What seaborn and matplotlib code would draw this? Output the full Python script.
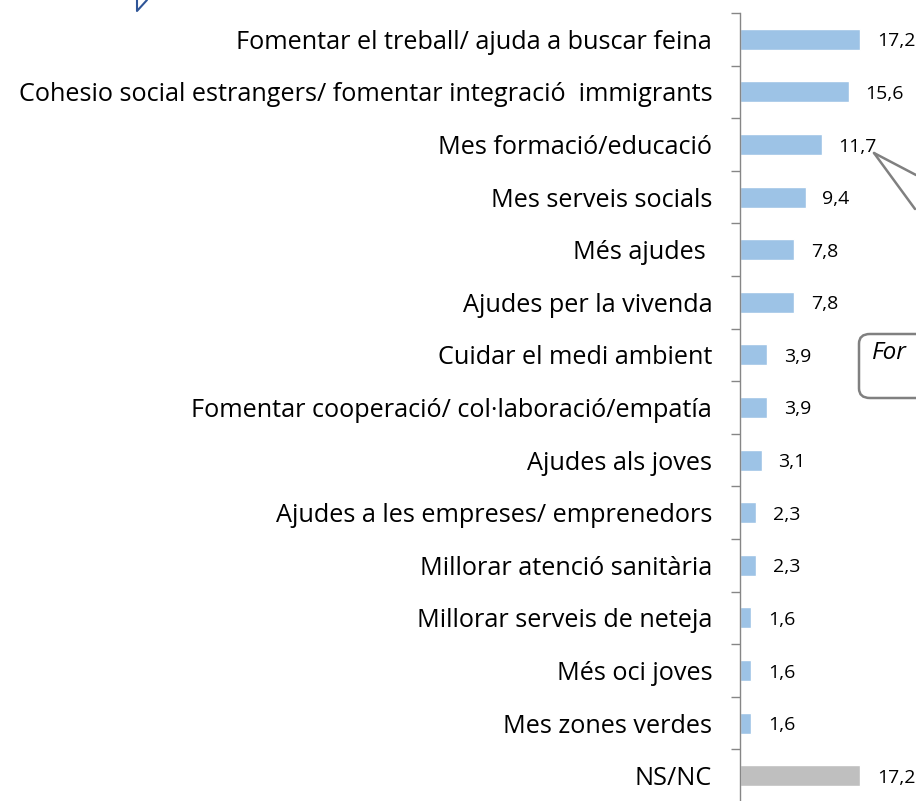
import matplotlib
matplotlib.use("Agg")
import matplotlib.pyplot as plt
import pandas as pd
import seaborn as sns
from matplotlib.lines import Line2D
from matplotlib.patches import FancyBboxPatch
from matplotlib.ticker import FixedLocator

categories = [
    "Fomentar el treball/ ajuda a buscar feina",
    "Cohesio social estrangers/ fomentar integració  immigrants",
    "Mes formació/educació",
    "Mes serveis socials",
    "Més ajudes ",
    "Ajudes per la vivenda",
    "Cuidar el medi ambient",
    "Fomentar cooperació/ col·laboració/empatía",
    "Ajudes als joves",
    "Ajudes a les empreses/ emprenedors",
    "Millorar atenció sanitària",
    "Millorar serveis de neteja",
    "Més oci joves",
    "Mes zones verdes",
    "NS/NC",
]
values = [17.2, 15.6, 11.7, 9.4, 7.8, 7.8, 3.9, 3.9, 3.1, 2.3, 2.3, 1.6, 1.6, 1.6, 17.2]
value_labels = ["17,2", "15,6", "11,7", "9,4", "7,8", "7,8", "3,9", "3,9", "3,1",
                "2,3", "2,3", "1,6", "1,6", "1,6", "17,2"]

BLUE = "#9DC3E6"
GRAY = "#BFBFBF"
colors = [BLUE] * (len(categories) - 1) + [GRAY]

sns.set_theme(style="white")
plt.rcParams["font.family"] = ["Open Sans", "DejaVu Sans"]

W, H = 916, 801
fig = plt.figure(figsize=(W / 100, H / 100), dpi=100)
ax = fig.add_axes([740 / W, 1 - 802 / H, 1 - 740 / W, (802 - 13) / H])

df = pd.DataFrame({"cat": categories, "val": values})
sns.barplot(data=df, x="val", y="cat", hue="cat", palette=colors, legend=False,
            width=0.4, orient="h", ax=ax, saturation=1)

for i, (v, lab) in enumerate(zip(values, value_labels)):
    ax.text(v + 2.4, i, lab, va="center_baseline", ha="left", fontsize=14,
            color="#000000")

ax.set_xlim(0, 176 / (120 / 17.2))
ax.set_ylim(len(categories) - 0.5, -0.5)
ax.set_xlabel("")
ax.set_ylabel("")
ax.set_xticks([])
ax.yaxis.set_minor_locator(FixedLocator([i - 0.5 for i in range(len(categories) + 1)]))
ax.tick_params(axis="y", which="major", length=0, pad=20, labelsize=18.2, colors="#000000")
ax.tick_params(axis="y", which="minor", left=True, length=6.5, width=1, color="#868686")
for s in ["top", "right", "bottom"]:
    ax.spines[s].set_visible(False)
ax.spines["left"].set_color("#868686")
ax.spines["left"].set_linewidth(1)

# callout box clipped at the right edge
box = FancyBboxPatch((859 / W, 1 - 398 / H), 90 / W, 64 / H,
                     boxstyle="round,pad=0,rounding_size=0.012",
                     transform=fig.transFigure, facecolor="white",
                     edgecolor="#808080", linewidth=1.8, clip_on=False)
fig.patches.append(box)
fig.text(872 / W, 1 - 353 / H, "For", fontsize=17.5, style="italic",
         va="center", ha="left", color="#000000")
for x2, y2 in [(916, 175), (915, 209)]:
    fig.add_artist(Line2D([874 / W, x2 / W], [1 - 153 / H, 1 - y2 / H],
                          color="#808080", linewidth=1.8))

# tip of the arrow shape at the top left
fig.add_artist(Line2D([137 / W, 137 / W, 147 / W], [1, 1 - 11 / H, 1],
                      color="#2F5597", linewidth=1.5))

fig.savefig("out.png", dpi=100)
